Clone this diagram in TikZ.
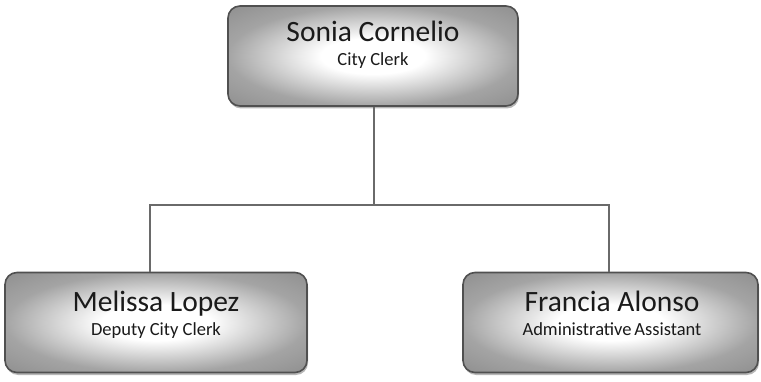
\documentclass[tikz,border=0pt]{standalone}
\usepackage{fontspec}
\setmainfont{Carlito}
\usetikzlibrary{shadows}
\definecolor{edgegray}{HTML}{8E8E8E}
\definecolor{midgray}{HTML}{A4A4A4}
\definecolor{framegray}{HTML}{505050}
\definecolor{textdark}{HTML}{1A1A1A}
\pgfdeclareradialshading{boxshade}{\pgfpoint{0bp}{0bp}}{color(0bp)=(white); color(9bp)=(white); color(25bp)=(midgray); color(36bp)=(edgegray); color(50bp)=(edgegray)}
\begin{document}
\begin{tikzpicture}[x=1pt,y=-1pt,
  personbox/.style={draw=framegray, line width=1.6pt, rounded corners=12pt,
    shading=boxshade,
    drop shadow={shadow xshift=1pt, shadow yshift=-2.5pt, opacity=0.4, fill=black!70},
    minimum width=#1, minimum height=100pt, align=center, inner sep=0pt},
  namefont/.style={font=\fontsize{29.5}{32}\selectfont, text=textdark},
  rolefont/.style={font=\fontsize{18.5}{20}\selectfont, text=textdark},
  link/.style={draw=framegray!85, line width=2pt}]
\useasboundingbox (0,0) rectangle (761,382);
\node[personbox=290pt] (top) at (373,56) {};
\node[personbox=302pt] (left) at (156,322.5) {};
\node[personbox=295pt] (right) at (610.5,322.5) {};
\node[namefont, anchor=base] (topname) at (373,42) {Sonia Cornelio};
\node[rolefont, anchor=base] (toprole) at (373,66) {City Clerk};
\node[namefont, anchor=base] (leftname) at (156,312) {Melissa Lopez};
\node[rolefont, anchor=base] (leftrole) at (156,335) {Deputy City Clerk};
\node[namefont, anchor=base] (rightname) at (612,312) {Francia Alonso};
\node[rolefont, anchor=base] (rightrole) at (612,335) {Administrative\hspace{0.15em}Assistant};
\coordinate (hub) at (374,205);
\draw[link] (top.south -| hub) -- (hub);
\draw[link] (left.north -| 150,0) |- (hub) -| (right.north -| 609,0);
\end{tikzpicture}
\end{document}
